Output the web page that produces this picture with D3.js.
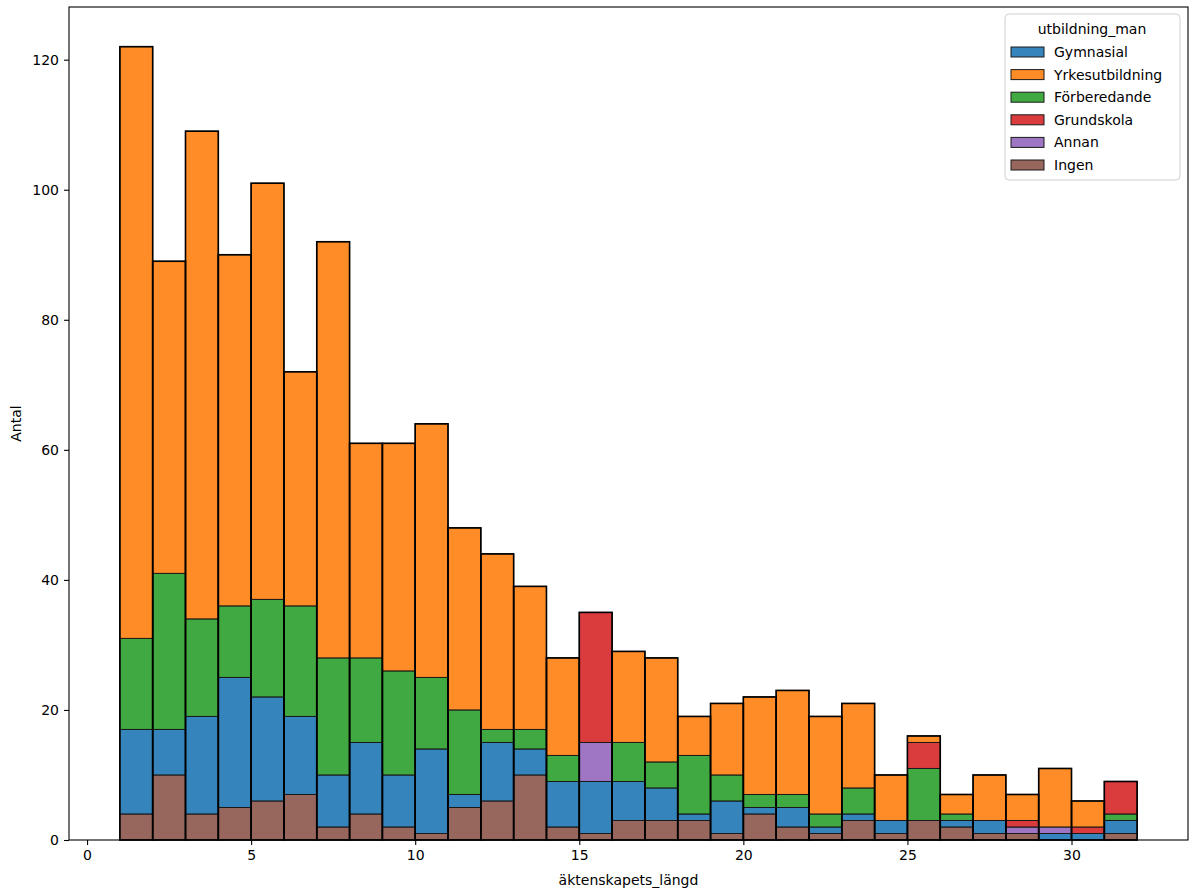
<!DOCTYPE html>
<html>
<head>
<meta charset="utf-8">
<script src="https://cdn.jsdelivr.net/npm/d3@7"></script>
<style>
  body { margin: 0; background: #fff; }
  svg text { font-family: "DejaVu Sans", sans-serif; fill: #000; }
</style>
</head>
<body>
<div id="chart"></div>
<script>
// bin left edges (bins are 1 wide)
var binStarts = [1,2,3,4,5,6,7,8,9,10,11,12,13,14,15,16,17,18,19,20,21,22,23,24,25,26,27,28,29,30,31];

// counts per bin, in the order they are stacked (bottom to top)
var ingen        = [4,10,4,5,6,7,2,4,2,1,5,6,10,2,1,3,3,3,1,4,2,1,3,1,3,2,1,1,0,0,1];
var gymnasial    = [13,7,15,20,16,12,8,11,8,13,2,9,4,7,8,6,5,1,5,1,3,1,1,2,0,1,2,0,1,1,2];
var annan        = [0,0,0,0,0,0,0,0,0,0,0,0,0,0,6,0,0,0,0,0,0,0,0,0,0,0,0,1,1,0,0];
var forberedande = [14,24,15,11,15,17,18,13,16,11,13,2,3,4,0,6,4,9,4,2,2,2,4,0,8,1,0,0,0,0,1];
var grundskola   = [0,0,0,0,0,0,0,0,0,0,0,0,0,0,20,0,0,0,0,0,0,0,0,0,4,0,0,1,0,1,5];
var yrkes        = [91,48,75,54,64,36,64,33,35,39,28,27,22,15,0,14,16,6,11,15,16,15,13,7,1,3,7,4,9,4,0];

var legendNames = ["Gymnasial", "Yrkesutbildning", "Förberedande", "Grundskola", "Annan", "Ingen"];
var legendColors = ["#1f77b4", "#ff7f0e", "#2ca02c", "#d62728", "#9467bd", "#8c564b"];

var xTicks = [0, 5, 10, 15, 20, 25, 30];
var yTicks = [0, 20, 40, 60, 80, 100, 120];

var svgWidth = 1196;
var svgHeight = 896;
var margin = { top: 7, right: 8, bottom: 56, left: 69 };
var width = svgWidth - margin.left - margin.right;
var height = svgHeight - margin.top - margin.bottom;

// build rows for d3.stack
var stackKeys = ["Ingen", "Gymnasial", "Annan", "Förberedande", "Grundskola", "Yrkesutbildning"];
var seriesByKey = {
    "Ingen": ingen, "Gymnasial": gymnasial, "Annan": annan,
    "Förberedande": forberedande, "Grundskola": grundskola, "Yrkesutbildning": yrkes
};
var rows = binStarts.map(function(b, i) {
    var r = { start: b };
    stackKeys.forEach(function(k) { r[k] = seriesByKey[k][i]; });
    return r;
});
var stacked = d3.stack().keys(stackKeys)(rows);
var totals = rows.map(function(r) { return d3.sum(stackKeys, k => r[k]); });

var colorOf = d3.scaleOrdinal().domain(legendNames).range(legendColors);

var svg = d3.select("#chart").append("svg")
    .attr("width", svgWidth)
    .attr("height", svgHeight);

var chartGroup = svg.append("g")
    .attr("transform", `translate(${margin.left}, ${margin.top})`);

// matplotlib-style padding of 5% on x, top of y
var xMin = 1, xMax = 32;
var pad = (xMax - xMin) * 0.05;
var xScale = d3.scaleLinear().domain([xMin - pad, xMax + pad]).range([0, width]);
var yScale = d3.scaleLinear().domain([0, d3.max(totals) * 1.05]).range([height, 0]);

// stacked segments
chartGroup.selectAll(".layer")
    .data(stacked)
    .enter()
    .append("g")
    .attr("class", "layer")
    .attr("fill", d => colorOf(d.key))
    .attr("fill-opacity", 0.9)
    .selectAll("rect")
    .data(d => d.filter(s => s[1] > s[0]))
    .enter()
    .append("rect")
    .attr("x", d => xScale(d.data.start))
    .attr("width", d => xScale(d.data.start + 1) - xScale(d.data.start))
    .attr("y", d => yScale(d[1]))
    .attr("height", d => yScale(d[0]) - yScale(d[1]))
    .attr("stroke", "#1a1a1a")
    .attr("stroke-width", 1);

// outline of each bin
chartGroup.selectAll(".outline")
    .data(rows)
    .enter()
    .append("rect")
    .attr("class", "outline")
    .attr("x", d => xScale(d.start))
    .attr("width", d => xScale(d.start + 1) - xScale(d.start))
    .attr("y", (d, i) => yScale(totals[i]))
    .attr("height", (d, i) => yScale(0) - yScale(totals[i]))
    .attr("fill", "none")
    .attr("stroke", "#000")
    .attr("stroke-width", 1.6);

// axes
var bottomAxis = d3.axisBottom(xScale).tickValues(xTicks).tickSize(5).tickPadding(5);
var leftAxis = d3.axisLeft(yScale).tickValues(yTicks).tickSize(5).tickPadding(5);

var xAxisG = chartGroup.append("g")
    .attr("transform", `translate(0, ${height})`)
    .call(bottomAxis);
var yAxisG = chartGroup.append("g").call(leftAxis);

[xAxisG, yAxisG].forEach(function(g) {
    g.select(".domain").remove();
    g.selectAll("line").attr("stroke", "#000").attr("stroke-width", 1.1);
    g.selectAll("text").style("font-size", "14px").style("font-family", "DejaVu Sans");
});

// frame
chartGroup.append("rect")
    .attr("width", width)
    .attr("height", height)
    .attr("fill", "none")
    .attr("stroke", "#000")
    .attr("stroke-width", 1.1);

// axis labels
chartGroup.append("text")
    .attr("x", width / 2)
    .attr("y", height + 45)
    .attr("text-anchor", "middle")
    .style("font-size", "14px")
    .text("äktenskapets_längd");

chartGroup.append("text")
    .attr("transform", "rotate(-90)")
    .attr("x", -height / 2)
    .attr("y", -48)
    .attr("text-anchor", "middle")
    .style("font-size", "14px")
    .text("Antal");

// legend
var legend = svg.append("g").attr("transform", "translate(1005, 14)");
legend.append("rect")
    .attr("width", 175)
    .attr("height", 166)
    .attr("rx", 4)
    .attr("fill", "#fff")
    .attr("fill-opacity", 0.8)
    .attr("stroke", "#d0d0d0");

legend.append("text")
    .attr("x", 87)
    .attr("y", 20)
    .attr("text-anchor", "middle")
    .style("font-size", "14px")
    .text("utbildning_man");

var items = legend.selectAll(".item")
    .data(legendNames)
    .enter()
    .append("g")
    .attr("class", "item")
    .attr("transform", (d, i) => `translate(6, ${38 + i * 22.6})`);

items.append("rect")
    .attr("width", 33)
    .attr("height", 10)
    .attr("y", -5)
    .attr("fill", d => colorOf(d))
    .attr("fill-opacity", 0.9)
    .attr("stroke", "#1a1a1a")
    .attr("stroke-width", 1);

items.append("text")
    .attr("x", 43)
    .attr("y", 5)
    .style("font-size", "14px")
    .text(d => d);
</script>
</body>
</html>
